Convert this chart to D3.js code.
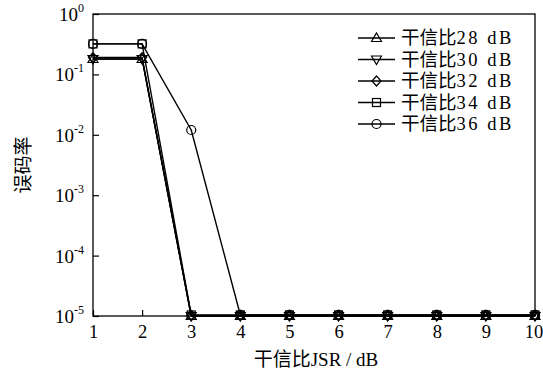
<!DOCTYPE html>
<html>
<head>
<meta charset="utf-8">
<script src="https://cdn.jsdelivr.net/npm/d3@7"></script>
<style>
body { margin: 0; background: #fff; }
text { font-family: "Liberation Serif", "Times New Roman", "Noto Sans CJK SC", serif; fill: #000; }
</style>
</head>
<body>
<svg id="chart" width="543" height="375"></svg>
<script>
// values
var jsr = [1, 2, 3, 4, 5, 6, 7, 8, 9, 10];
var ber28 = [0.18, 0.18, 1e-5, 1e-5, 1e-5, 1e-5, 1e-5, 1e-5, 1e-5, 1e-5];
var ber30 = [0.18, 0.18, 1e-5, 1e-5, 1e-5, 1e-5, 1e-5, 1e-5, 1e-5, 1e-5];
var ber32 = [0.19, 0.19, 1.02e-5, 1.02e-5, 1.02e-5, 1.02e-5, 1.02e-5, 1.02e-5, 1.02e-5, 1.02e-5];
var ber34 = [0.32, 0.32, 1.04e-5, 1.04e-5, 1.04e-5, 1.04e-5, 1.04e-5, 1.04e-5, 1.04e-5, 1.04e-5];
var ber36 = [0.32, 0.32, 0.012, 1.04e-5, 1.04e-5, 1.04e-5, 1.04e-5, 1.04e-5, 1.04e-5, 1.04e-5];
var names = ["干信比28 dB", "干信比30 dB", "干信比32 dB", "干信比34 dB", "干信比36 dB"];
var yExp = [0, -1, -2, -3, -4, -5];

var series = [
  {name: names[0], values: ber28, symbol: "triUp"},
  {name: names[1], values: ber30, symbol: "triDown"},
  {name: names[2], values: ber32, symbol: "diamond"},
  {name: names[3], values: ber34, symbol: "square"},
  {name: names[4], values: ber36, symbol: "circle"}
];

var mLeft = 93, mRight = 535, mTop = 14, mBottom = 316;
var svg = d3.select("#chart");

var x = d3.scaleLinear().domain([1, 10]).range([mLeft, mRight]);
var y = d3.scaleLog().domain([1e-5, 1]).range([mBottom, mTop]);

// marker shapes, hollow
function marker(sel, type) {
  if (type == "circle") {
    sel.append("circle").attr("r", 4.5);
  } else if (type == "square") {
    sel.append("rect").attr("x", -4).attr("y", -4).attr("width", 8).attr("height", 8);
  } else if (type == "diamond") {
    sel.append("path").attr("d", "M0,-5L4.5,0L0,5L-4.5,0Z");
  } else if (type == "triUp") {
    sel.append("path").attr("d", "M0,-5L5,3.5L-5,3.5Z");
  } else {
    sel.append("path").attr("d", "M0,5L5,-3.5L-5,-3.5Z");
  }
  sel.selectAll("*").attr("fill", "none").attr("stroke", "#000").attr("stroke-width", 1.2);
}

// frame
svg.append("rect")
  .attr("x", mLeft).attr("y", mTop)
  .attr("width", mRight - mLeft).attr("height", mBottom - mTop)
  .attr("fill", "none").attr("stroke", "#000").attr("stroke-width", 1.3);

// axes with inner ticks
var xAxis = svg.append("g")
  .attr("transform", "translate(0," + mBottom + ")")
  .call(d3.axisBottom(x).tickValues(jsr).tickSize(-6).tickPadding(9).tickFormat(d3.format("d")));
xAxis.select(".domain").remove();
xAxis.selectAll("line").attr("stroke", "#000").attr("stroke-width", 1.2);
xAxis.selectAll("text").style("font-size", "18.5px");
// last label sits at the page edge
xAxis.selectAll("text").filter(function(d) { return d == 10; }).attr("dx", -1.5);

var yAxis = svg.append("g")
  .attr("transform", "translate(" + mLeft + ",0)")
  .call(d3.axisLeft(y).tickValues(yExp.map(function(e) { return Math.pow(10, e); })).tickSize(-6).tickFormat(""));
yAxis.select(".domain").remove();
yAxis.selectAll("line").attr("stroke", "#000").attr("stroke-width", 1.2);

var yl = svg.append("g").selectAll("text")
  .data(yExp).enter().append("text")
  .attr("x", 84)
  .attr("y", function(d) { return y(Math.pow(10, d)) + 7; })
  .attr("text-anchor", "end")
  .style("font-size", "19px");
yl.append("tspan").text("10");
yl.append("tspan").attr("dy", -9).style("font-size", "12px").text(function(d) { return d; });

// lines
var line = d3.line()
  .x(function(d, i) { return x(jsr[i]); })
  .y(function(d) { return y(d); });

series.forEach(function(s) {
  svg.append("path")
    .datum(s.values)
    .attr("d", line)
    .attr("fill", "none")
    .attr("stroke", "#000")
    .attr("stroke-width", 1.4);
});

series.forEach(function(s) {
  svg.append("g").selectAll("g")
    .data(s.values).enter().append("g")
    .attr("transform", function(d, i) { return "translate(" + x(jsr[i]) + "," + y(d) + ")"; })
    .each(function() { marker(d3.select(this), s.symbol); });
});

// legend
var leg = svg.append("g").selectAll("g")
  .data(series).enter().append("g")
  .attr("transform", function(d, i) { return "translate(358," + (38 + i * 21.5) + ")"; });
leg.append("line").attr("x1", 0).attr("x2", 37).attr("stroke", "#000").attr("stroke-width", 1.4);
leg.append("g").attr("transform", "translate(18.5,0)")
  .each(function(d) { marker(d3.select(this), d.symbol); });
var lt = leg.append("text")
  .attr("x", 43).attr("y", 6)
  .style("font-size", "18.5px");
lt.append("tspan").text(function(d) { return d.name.slice(0, 3); });
lt.append("tspan").attr("letter-spacing", "2.5px").text(function(d) { return d.name.slice(3); });

// axis titles
svg.append("text")
  .attr("x", 316).attr("y", 366)
  .attr("text-anchor", "middle")
  .style("font-size", "19px")
  .text("干信比JSR / dB");

svg.append("text")
  .attr("transform", "translate(30," + ((mTop + mBottom) / 2) + ") rotate(-90)")
  .attr("text-anchor", "middle")
  .style("font-size", "19px")
  .text("误码率");
</script>
</body>
</html>
